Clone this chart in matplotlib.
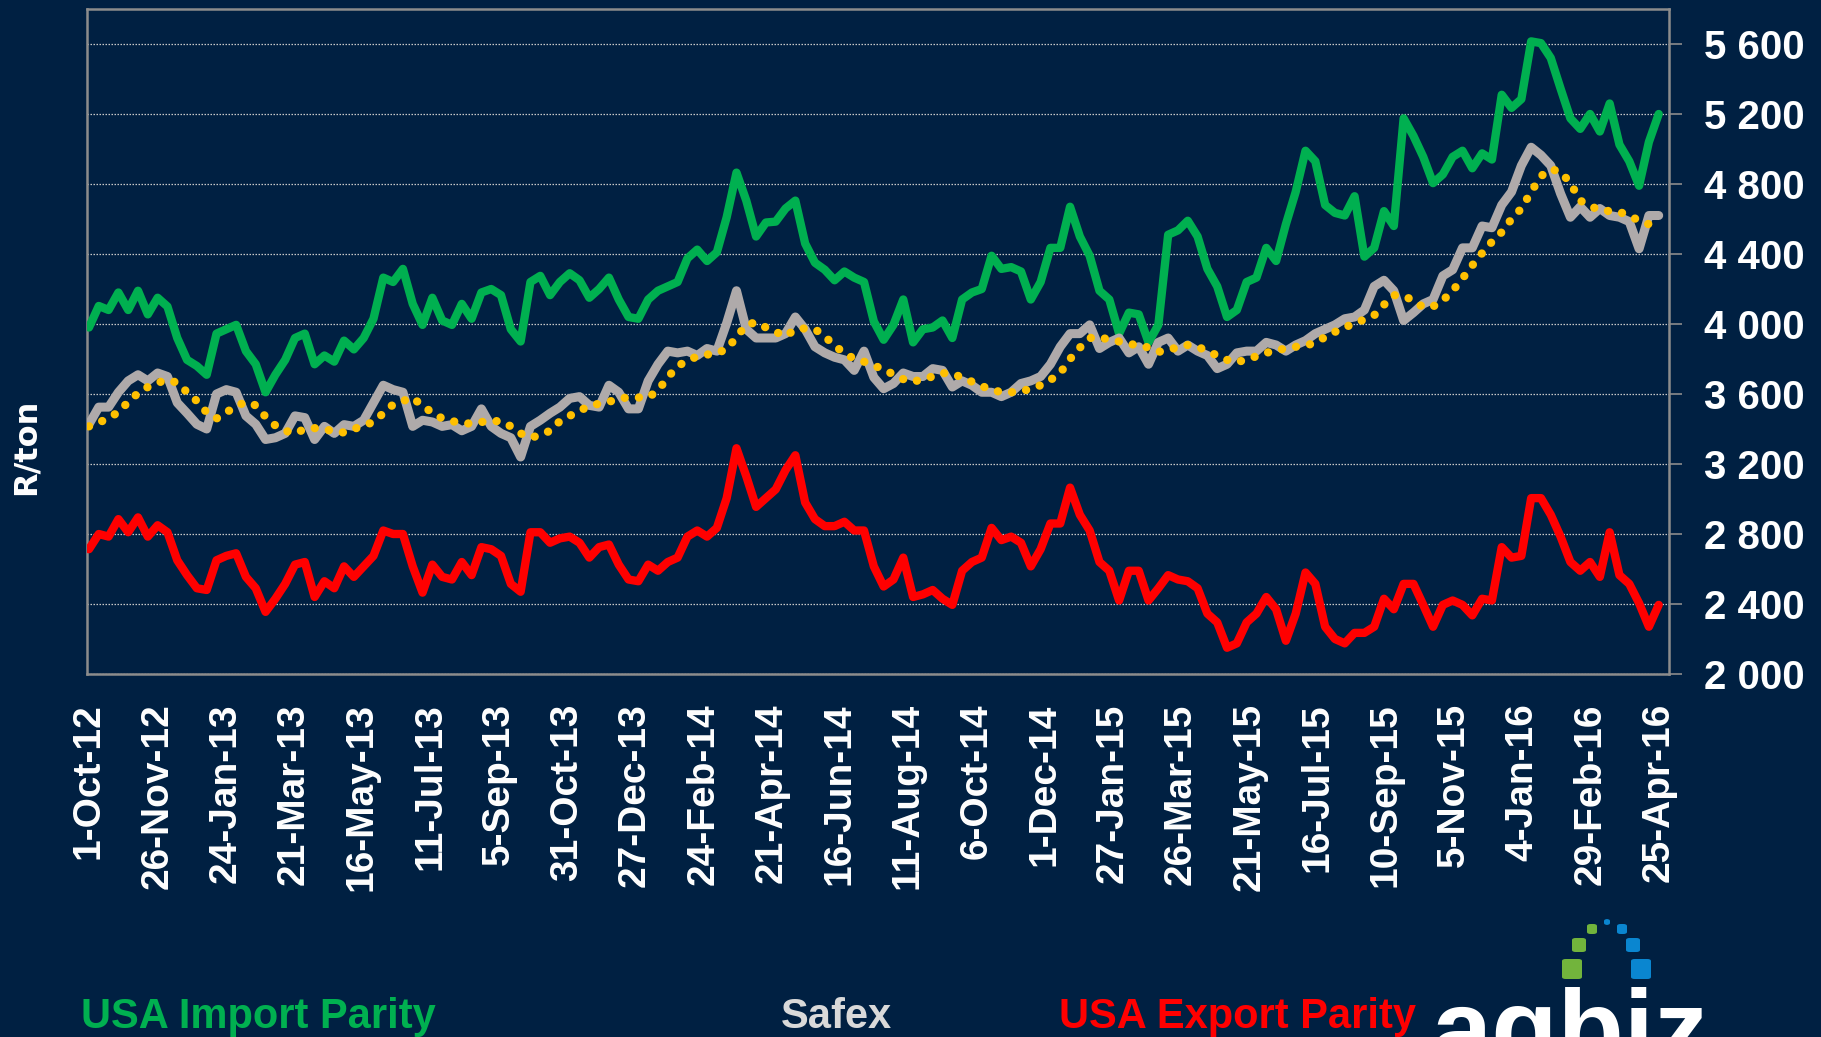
import numpy as np
import matplotlib
matplotlib.use('Agg')
import matplotlib.pyplot as plt
from matplotlib import font_manager
from matplotlib.patches import FancyBboxPatch

# values (R/ton), one sample every ~6 trading days
import_parity = [3980, 4103, 4080, 4180, 4080, 4190, 4055, 4150, 4100, 3920,
                 3795, 3760, 3710, 3945, 3970, 3995, 3845, 3770, 3610, 3710,
                 3795, 3920, 3945, 3770, 3820, 3785, 3905, 3855, 3920, 4030,
                 4265, 4240, 4315, 4115, 3995, 4150, 4020, 3995, 4115, 4030,
                 4180, 4200, 4165, 3970, 3900, 4240, 4275, 4165, 4240, 4290,
                 4250, 4150, 4200, 4265, 4140, 4040, 4030, 4140, 4190, 4215,
                 4240, 4375, 4425, 4360, 4410, 4610, 4865, 4705, 4500, 4580,
                 4585, 4660, 4705, 4460, 4350, 4310, 4250, 4300, 4265, 4240,
                 4015, 3910, 3995, 4140, 3895, 3970, 3980, 4020, 3920, 4140,
                 4180, 4200, 4390, 4315, 4325, 4300, 4140, 4240, 4435, 4435,
                 4670, 4500, 4390, 4190, 4140, 3945, 4065, 4055, 3895, 3995,
                 4510, 4535, 4590, 4500, 4315, 4215, 4040, 4080, 4240, 4265,
                 4435, 4360, 4570, 4755, 4990, 4930, 4680, 4635, 4620, 4730,
                 4385, 4435, 4645, 4560, 5175, 5075, 4955, 4805, 4855, 4955,
                 4990, 4890, 4975, 4940, 5310, 5235, 5285, 5615, 5605, 5520,
                 5345, 5175, 5115, 5200, 5100, 5260, 5025, 4930, 4790, 5040,
                 5200]

safex = [3427, 3525, 3525, 3610, 3675, 3710, 3675, 3720, 3700, 3550,
         3490, 3427, 3400, 3600, 3625, 3610, 3475, 3427, 3340, 3350,
         3375, 3475, 3465, 3340, 3415, 3375, 3425, 3415, 3450, 3550,
         3650, 3625, 3610, 3415, 3450, 3440, 3415, 3425, 3390, 3415,
         3515, 3415, 3375, 3350, 3240, 3415, 3450, 3490, 3525, 3575,
         3585, 3535, 3525, 3650, 3610, 3515, 3515, 3675, 3770, 3845,
         3835, 3845, 3820, 3860, 3845, 4005, 4190, 3970, 3920, 3920,
         3920, 3945, 4040, 3970, 3870, 3835, 3810, 3795, 3735, 3845,
         3695, 3630, 3660, 3720, 3700, 3700, 3745, 3735, 3640, 3675,
         3650, 3610, 3610, 3585, 3610, 3660, 3675, 3700, 3770, 3870,
         3945, 3945, 3995, 3860, 3895, 3920, 3835, 3870, 3770, 3895,
         3920, 3845, 3880, 3845, 3820, 3745, 3770, 3835, 3845, 3845,
         3895, 3880, 3845, 3880, 3905, 3945, 3970, 3995, 4030, 4040,
         4080, 4215, 4250, 4190, 4020, 4065, 4115, 4140, 4275, 4310,
         4435, 4435, 4560, 4550, 4680, 4755, 4905, 5010, 4965, 4905,
         4745, 4610, 4670, 4610, 4660, 4620, 4610, 4585, 4430, 4620,
         4620]

export_parity = [2713, 2800, 2785, 2885, 2810, 2895, 2785, 2850, 2810, 2650,
                 2565, 2490, 2480, 2650, 2675, 2690, 2555, 2490, 2355, 2430,
                 2515, 2625, 2640, 2440, 2530, 2490, 2615, 2555, 2615, 2675,
                 2820, 2800, 2800, 2615, 2465, 2625, 2555, 2540, 2640, 2565,
                 2725, 2713, 2675, 2515, 2470, 2810, 2810, 2750, 2775, 2785,
                 2750, 2665, 2725, 2740, 2625, 2540, 2530, 2625, 2590, 2640,
                 2665, 2785, 2820, 2785, 2835, 3005, 3290, 3130, 2955, 3005,
                 3055, 3165, 3250, 2980, 2885, 2845, 2845, 2870, 2820, 2820,
                 2615, 2500, 2540, 2665, 2440, 2455, 2480, 2430, 2395, 2590,
                 2640, 2665, 2835, 2765, 2785, 2750, 2615, 2713, 2860, 2860,
                 3065, 2910, 2820, 2640, 2590, 2420, 2590, 2590, 2420, 2490,
                 2565, 2540, 2530, 2490, 2345, 2295, 2150, 2175, 2295, 2345,
                 2440, 2370, 2190, 2345, 2580, 2515, 2270, 2200, 2175, 2235,
                 2235, 2270, 2430, 2370, 2515, 2515, 2395, 2270, 2395, 2420,
                 2395, 2335, 2430, 2420, 2725, 2665, 2675, 3005, 3005, 2910,
                 2785, 2640, 2590, 2640, 2555, 2810, 2565, 2515, 2405, 2270,
                 2395]

safex_trend = [3415, 3435, 3465, 3495, 3555, 3605, 3640, 3665, 3680, 3665,
               3610, 3560, 3495, 3460, 3495, 3530, 3555, 3535, 3470, 3420,
               3390, 3375, 3400, 3405, 3400, 3385, 3380, 3400, 3420, 3440,
               3490, 3540, 3560, 3580, 3530, 3495, 3460, 3445, 3435, 3430,
               3440, 3445, 3445, 3415, 3375, 3350, 3365, 3390, 3445, 3475,
               3505, 3530, 3545, 3555, 3575, 3580, 3580, 3580, 3620, 3695,
               3760, 3790, 3815, 3825, 3835, 3855, 3925, 3995, 4010, 3980,
               3955, 3930, 3970, 3975, 3970, 3930, 3875, 3835, 3800, 3785,
               3760, 3745, 3710, 3685, 3670, 3685, 3700, 3720, 3715, 3695,
               3670, 3645, 3625, 3610, 3610, 3615, 3630, 3650, 3680, 3720,
               3800, 3865, 3920, 3925, 3910, 3900, 3885, 3880, 3865, 3840,
               3855, 3865, 3880, 3870, 3845, 3820, 3795, 3780, 3800, 3815,
               3835, 3850, 3860, 3870, 3875, 3895, 3925, 3955, 3980, 4005,
               4025, 4050, 4110, 4165, 4160, 4135, 4095, 4100, 4135, 4190,
               4260, 4335, 4405, 4470, 4525, 4600, 4660, 4755, 4845, 4885,
               4870, 4805, 4705, 4675, 4650, 4645, 4640, 4620, 4590, 4570,
               4565]

date_labels = ['1-Oct-12', '26-Nov-12', '24-Jan-13', '21-Mar-13', '16-May-13',
               '11-Jul-13', '5-Sep-13', '31-Oct-13', '27-Dec-13', '24-Feb-14',
               '21-Apr-14', '16-Jun-14', '11-Aug-14', '6-Oct-14', '1-Dec-14',
               '27-Jan-15', '26-Mar-15', '21-May-15', '16-Jul-15', '10-Sep-15',
               '5-Nov-15', '4-Jan-16', '29-Feb-16', '25-Apr-16']

y_ticks = [2000, 2400, 2800, 3200, 3600, 4000, 4400, 4800, 5200, 5600]
y_labels = ['2 000', '2 400', '2 800', '3 200', '3 600', '4 000', '4 400', '4 800', '5 200', '5 600']

BG = '#002042'
GREEN = '#00B050'
GREY = '#AFAAAA'
RED = '#FF0000'
GOLD = '#FFC000'

plt.rcParams['font.family'] = ['Liberation Sans', 'DejaVu Sans']

names = {f.name for f in font_manager.fontManager.ttflist}
if 'Liberation Sans Narrow' in names:
    date_font = dict(family='Liberation Sans Narrow', size=34)
else:
    date_font = dict(family='Liberation Sans', size=28)

W, H = 1821, 1037
fig = plt.figure(figsize=(W / 100, H / 100), dpi=100, facecolor=BG)
ax = fig.add_axes([87 / W, 1 - 674 / H, (1669 - 87) / W, (674 - 9) / H])
ax.set_facecolor(BG)

x = np.arange(len(safex))
ax.plot(x, import_parity, color=GREEN, lw=6, solid_joinstyle='round', solid_capstyle='round', zorder=3)
ax.plot(x, safex, color=GREY, lw=6.5, solid_joinstyle='round', solid_capstyle='round', zorder=3)
ax.plot(x, export_parity, color=RED, lw=6, solid_joinstyle='round', solid_capstyle='round', zorder=3)
ax.plot(x, safex_trend, color=GOLD, lw=6, linestyle=(0, (0.01, 1.7)),
        dash_capstyle='round', zorder=4)

ax.set_ylim(2000, 5800)
ax.set_xlim(-0.2, len(safex) + 0.05)

ax.yaxis.tick_right()
ax.set_yticks(y_ticks)
ax.set_yticklabels(y_labels, fontsize=29, fontweight='bold', color='white')
ax.tick_params(axis='y', length=9, width=1.2, color='#8c8c8c', pad=16)
ax.grid(axis='y', color='#c8c8c8', lw=0.9, linestyle=(0, (1.2, 1.2)), zorder=1)

ax.set_xticks(np.linspace(0, len(safex) - 1, len(date_labels)))
ax.set_xticklabels(date_labels, rotation=90, color='white', fontweight='bold', **date_font)
ax.tick_params(axis='x', length=0, pad=21)

for s in ax.spines.values():
    s.set_color('#8c8c8c')
    s.set_linewidth(1.8)

fig.text(26 / W, 1 - 447 / H, 'R/ton', rotation=90, ha='center', va='center',
         color='white', fontsize=23, fontweight='bold', family=['DejaVu Sans'])

# legend text at the bottom
fig.text(81 / W, 1 - 1028 / H, 'USA Import Parity', color=GREEN, fontsize=30,
         fontweight='bold', va='baseline', ha='left')
fig.text(836 / W, 1 - 1028 / H, 'Safex', color='#D9D9D9', fontsize=30,
         fontweight='bold', va='baseline', ha='center')
fig.text(1059 / W, 1 - 1028 / H, 'USA Export Parity', color=RED, fontsize=30,
         fontweight='bold', va='baseline', ha='left')

# agbiz logo
def square(cx, cy, size, color):
    p = FancyBboxPatch(((cx - size / 2) / W, 1 - (cy + size / 2) / H), size / W, size / H,
                       boxstyle='round,pad=0,rounding_size=0.002', transform=fig.transFigure,
                       facecolor=color, edgecolor='none')
    fig.add_artist(p)

square(1607, 922, 6, '#0A86D0')
square(1592, 929, 10, '#72B43C')
square(1579, 945, 14, '#72B43C')
square(1572, 969, 20, '#72B43C')
square(1622, 929, 10, '#0A86D0')
square(1633, 945, 14, '#0A86D0')
square(1641, 969, 20, '#0A86D0')
fig.text(1432 / W, 1 - 1065 / H, 'agbiz', color='white', fontsize=78,
         fontweight='bold', va='baseline', ha='left')

fig.savefig('out.png', dpi=100, facecolor=BG)
